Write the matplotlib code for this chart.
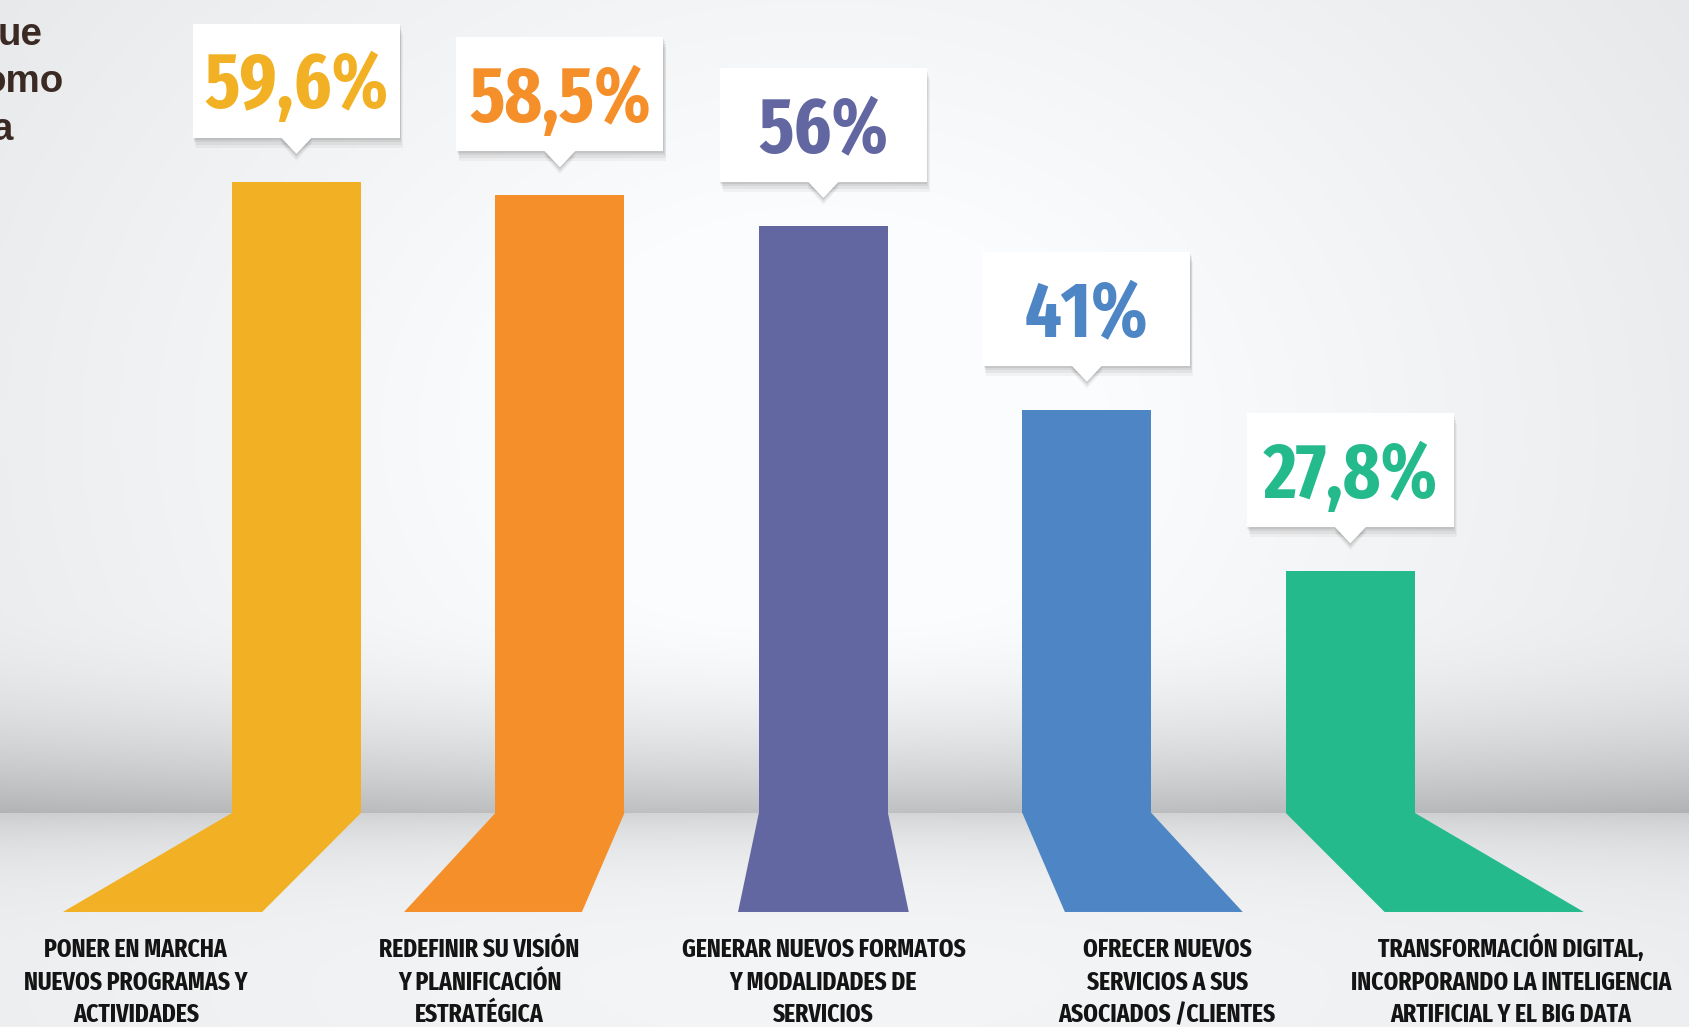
import os
import numpy as np
import matplotlib
matplotlib.use('Agg')
import matplotlib.pyplot as plt
from matplotlib import font_manager
from matplotlib.patches import Rectangle, Polygon
from matplotlib.transforms import IdentityTransform

categories = [['PONER EN MARCHA', 'NUEVOS PROGRAMAS Y', 'ACTIVIDADES'],
              ['REDEFINIR SU VISIÓN', 'Y PLANIFICACIÓN', 'ESTRATÉGICA'],
              ['GENERAR NUEVOS FORMATOS', 'Y MODALIDADES DE', 'SERVICIOS'],
              ['OFRECER NUEVOS', 'SERVICIOS A SUS', 'ASOCIADOS /CLIENTES'],
              ['TRANSFORMACIÓN DIGITAL,', 'INCORPORANDO LA INTELIGENCIA', 'ARTIFICIAL Y EL BIG DATA']]
values = [59.6, 58.5, 56, 41, 27.8]
value_labels = ['59,6%', '58,5%', '56%', '41%', '27,8%']
colors = ['#F2B124', '#F58F2A', '#6267A1', '#4E86C5', '#24BA8C']
side_text = ['ue', 'omo', 'a']

W, H = 1690, 1027
FLOOR_PX = 813


def pick_condensed():
    # look for a bold condensed face among the installed files
    best, best_s = None, -1
    for f in font_manager.fontManager.ttflist:
        fn = os.path.basename(f.fname).lower().replace(' ', '').replace('-', '')
        if 'italic' in fn or 'oblique' in fn or 'mono' in fn or 'cjk' in fn:
            continue
        if 'extracondensed' in fn:
            s = 30
        elif 'semicondensed' in fn:
            s = 10
        elif 'condensed' in fn or 'narrow' in fn or f.stretch == 'condensed':
            s = 20
        else:
            continue
        if 'bold' in fn and 'semibold' not in fn and 'extrabold' not in fn:
            s += 5
        elif 'semibold' in fn or 'extrabold' in fn:
            s += 3
        elif isinstance(f.weight, int) and f.weight >= 600:
            s += 4
        else:
            continue
        if s > best_s:
            best, best_s = f, s
    if best is None:
        return font_manager.FontProperties(family='DejaVu Sans', weight='bold')
    return font_manager.FontProperties(fname=best.fname)


cond = pick_condensed()

fig = plt.figure(figsize=(W / 100, H / 100), dpi=100)
renderer = fig.canvas.get_renderer()


def fit_size(s, target_w, max_pt):
    t = fig.text(0, 0, s, fontproperties=cond, fontsize=100)
    w = t.get_window_extent(renderer).width
    t.remove()
    return min(100 * target_w / w, max_pt)


# background: wall + floor
yy, xx = np.mgrid[0:H, 0:W].astype(float)
r = np.hypot((xx - 820) / 900, (yy - 430) / 700)
vign = np.clip(r - 0.3, 0, None) * 24
wall = 251 - vign - 55 * np.clip((yy - 600) / (FLOOR_PX - 600), 0, 1) ** 2.2
flr = 251 - vign * 0.6 - 36 * np.exp(-(yy - FLOOR_PX) / 45)
val = np.where(yy < FLOOR_PX, wall, flr)
img = np.clip(np.dstack([val, val + 1.5, val + 2.5]) / 255, 0, 1)
bg = fig.add_axes([0, 0, 1, 1])
bg.imshow(img, extent=[0, 1, 0, 1], aspect='auto')
bg.axis('off')

ax = fig.add_axes([0, 0, 1, 1])
ax.patch.set_alpha(0)
ax.set_xlim(-1.125, 5.289)
ax.set_ylim(-9.39, 74.45)
ax.axis('off')

floor = (912 - FLOOR_PX) / 12.25
x = np.arange(len(values))
bar_w = 0.49
ax.bar(x, np.array(values) - floor, bottom=floor, width=bar_w, color=colors, zorder=3)

label_pt = fit_size(categories[4][1], 322, 24.5)
line_px = [957, 990, 1022]

# skewed feet on the floor + labels under them
for i in x:
    shift = 0.254 * (i - 2)
    bw = 0.648 + 0.027 * (i - 2) ** 2
    foot = Polygon([(i - bar_w / 2, floor), (i + bar_w / 2, floor),
                    (i + shift + bw / 2, 0), (i + shift - bw / 2, 0)],
                   closed=True, color=colors[i], lw=0, zorder=3)
    ax.add_patch(foot)
    for line, yp in zip(categories[i], line_px):
        ax.text(i + 1.2 * shift, (912 - yp) / 12.25, line, ha='center', va='baseline',
                fontproperties=cond, fontsize=label_pt, color='#141414', zorder=4)

# callout boxes above bars
value_pt = fit_size(value_labels[0], 184, 62)
cap = 0.71 * value_pt * 100 / 72
bw_px, bh_px, gap, tip = 207, 114, 44, 16
for i, v in enumerate(values):
    cx, cy = ax.transData.transform((i, v))
    by = cy + gap
    for k, a in [(10, 0.04), (7, 0.05), (4, 0.06), (2, 0.07)]:
        ax.add_patch(Rectangle((cx - bw_px / 2 + k * 0.3, by - k), bw_px, bh_px,
                               transform=IdentityTransform(), color='#000000',
                               alpha=a, lw=0, zorder=5))
        ax.add_patch(Polygon([(cx - tip, by - k * 0.5), (cx + tip, by - k * 0.5),
                              (cx, by - tip - k * 0.7)], transform=IdentityTransform(),
                             color='#000000', alpha=a, lw=0, zorder=5))
    ax.add_patch(Rectangle((cx - bw_px / 2, by), bw_px, bh_px, transform=IdentityTransform(),
                           color='white', lw=0, zorder=6))
    ax.add_patch(Polygon([(cx - tip, by + 1), (cx + tip, by + 1), (cx, by - tip)],
                         transform=IdentityTransform(), color='white', lw=0, zorder=6))
    ax.annotate(value_labels[i], xy=(i, v), xytext=(0, gap + bh_px / 2 - cap / 2),
                textcoords='offset pixels', ha='center', va='baseline',
                fontproperties=cond, fontsize=value_pt, color=colors[i], zorder=7,
                annotation_clip=False)

# cropped text from the left edge of the original page
for s, xr, yb in zip(side_text, [43, 64, 13], [45, 92, 140]):
    fig.text(xr / W, 1 - yb / H, s, ha='right', va='baseline', fontsize=27.7,
             fontweight='bold', color='#3B2A24', family='Liberation Sans')

fig.savefig('out.png', dpi=100)
